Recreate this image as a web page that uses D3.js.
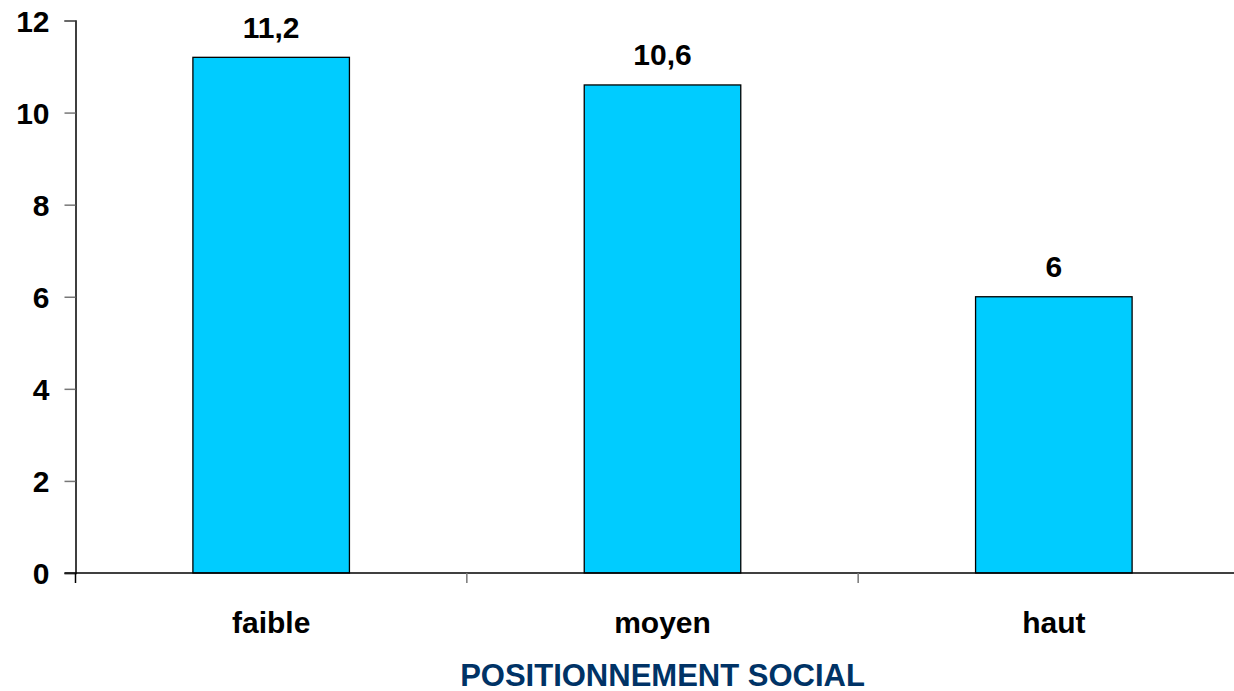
<!DOCTYPE html>
<html>
<head>
<meta charset="utf-8">
<script src="https://cdn.jsdelivr.net/npm/d3@7"></script>
<style>
  body { margin: 0; background: #fff; }
  text { font-family: "Liberation Sans", Arial, sans-serif; font-weight: bold; }
</style>
</head>
<body>
<script>
// chart data
var categories = ["faible", "moyen", "haut"]
var values = [11.2, 10.6, 6]
var yTicks = [0, 2, 4, 6, 8, 10, 12]
var axisTitle = "POSITIONNEMENT SOCIAL"

var w = 1234
var h = 691
var plotLeft = 75.5
var plotRight = 1249.5
var plotTop = 20.5
var plotBottom = 573

var svg = d3.select("body")
            .append("svg")
            .attr("width", w)
            .attr("height", h)

var xScale = d3.scaleBand()
    .domain(categories)
    .range([plotLeft, plotRight])
    .paddingInner(0.6)
    .paddingOuter(0.3)

var yScale = d3.scaleLinear()
    .domain([0, 12])
    .range([plotBottom, plotTop])

var step = xScale.step()

// bars
svg.selectAll("rect.bar")
    .data(values)
    .enter()
    .append("rect")
    .attr("class", "bar")
    .attr("x", (d, i) => xScale(categories[i]))
    .attr("y", d => yScale(d))
    .attr("width", xScale.bandwidth())
    .attr("height", d => yScale(0) - yScale(d))
    .style("fill", "#00CCFF")
    .style("stroke", "#000")
    .style("stroke-width", 1.3)

// value labels
svg.selectAll("text.val")
    .data(values)
    .enter()
    .append("text")
    .attr("class", "val")
    .attr("x", (d, i) => xScale(categories[i]) + xScale.bandwidth() / 2)
    .attr("y", d => yScale(d) - 19.5)
    .attr("text-anchor", "middle")
    .style("font-size", "30px")
    .text(d => String(d).replace(".", ","))

// y axis
var yAxis = d3.axisLeft(yScale).tickValues(yTicks).tickSize(11).tickPadding(15)
var gy = svg.append("g")
    .attr("transform", "translate(" + plotLeft + ",0)")
    .call(yAxis)
gy.select(".domain").attr("stroke", "#000").attr("stroke-width", 1.5)
gy.selectAll(".tick line").attr("stroke", "#777").attr("stroke-width", 1.5)
gy.selectAll(".tick text").style("font-size", "30px").attr("fill", "#000").attr("dy", "0.36em")

// x axis: ticks at category boundaries
var bounds = categories.map(c => xScale(c) - step * 0.3)
var gx = svg.append("g")
gx.append("line")
    .attr("x1", plotLeft - 11).attr("x2", plotRight)
    .attr("y1", plotBottom).attr("y2", plotBottom)
    .attr("stroke", "#000").attr("stroke-width", 1.5)
gx.selectAll("line.xt")
    .data(bounds)
    .enter()
    .append("line")
    .attr("class", "xt")
    .attr("x1", d => d).attr("x2", d => d)
    .attr("y1", plotBottom).attr("y2", plotBottom + 10)
    .attr("stroke", (d, i) => i == 0 ? "#000" : "#777")
    .attr("stroke-width", 1.5)

gx.selectAll("text.cat")
    .data(categories)
    .enter()
    .append("text")
    .attr("class", "cat")
    .attr("x", d => xScale(d) + xScale.bandwidth() / 2)
    .attr("y", 633)
    .attr("text-anchor", "middle")
    .style("font-size", "30px")
    .text(d => d)

// axis title
svg.append("text")
    .attr("x", (plotLeft + plotRight) / 2)
    .attr("y", 686)
    .attr("text-anchor", "middle")
    .style("font-size", "31px")
    .style("fill", "#003366")
    .text(axisTitle)
</script>
</body>
</html>
